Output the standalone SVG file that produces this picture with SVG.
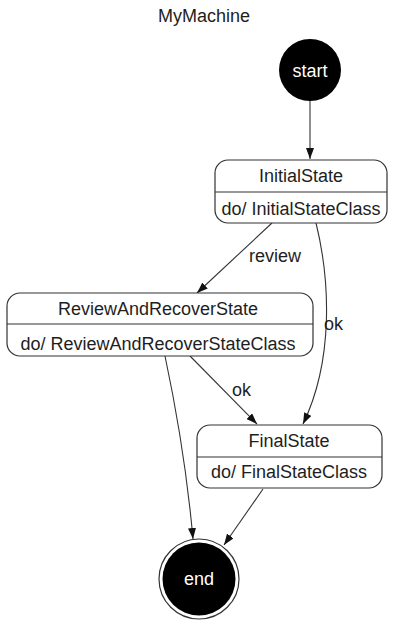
<svg xmlns="http://www.w3.org/2000/svg" width="397" height="622" viewBox="0 0 397 622">
<style>
text{font-family:"Liberation Sans",Arial,sans-serif;font-size:18px;fill:#1e1e1e}
.c{text-anchor:middle}
.w{fill:#ffffff}
.box{fill:#ffffff;stroke:#333333;stroke-width:1.2}
.div{stroke:#333333;stroke-width:1.2}
.e{fill:none;stroke:#333333;stroke-width:1.1}
</style>
<defs>
<marker id="ah" markerUnits="userSpaceOnUse" markerWidth="12" markerHeight="8" refX="11" refY="4" orient="auto">
<path d="M0,0 L11,4 L0,8 z" fill="#111111"/>
</marker>
</defs>
<rect width="397" height="622" fill="#ffffff"/>
<text class="c" x="204" y="22">MyMachine</text>
<g id="edges">
<path class="e" d="M310,101 L310,159" marker-end="url(#ah)"/>
<path class="e" d="M272,223 L197,293" marker-end="url(#ah)"/>
<path class="e" d="M316,223 C330,280 334,360 303,424" marker-end="url(#ah)"/>
<path class="e" d="M190,356 L257,424" marker-end="url(#ah)"/>
<path class="e" d="M165,356 Q185,450 193,539" marker-end="url(#ah)"/>
<path class="e" d="M263,489 L224,545" marker-end="url(#ah)"/>
<text class="c" x="275" y="262">review</text>
<text x="324" y="330">ok</text>
<text x="232" y="396">ok</text>
</g>
<g id="start">
<circle cx="310" cy="70" r="31" fill="#000000"/>
<text class="c w" x="310" y="77">start</text>
</g>
<g id="InitialState">
<rect class="box" x="215" y="160" width="172" height="63" rx="13"/>
<line class="div" x1="215" y1="192" x2="387" y2="192"/>
<text class="c" x="301" y="182">InitialState</text>
<text class="c" x="301" y="215">do/ InitialStateClass</text>
</g>
<g id="ReviewAndRecoverState">
<rect class="box" x="7" y="293" width="306" height="63" rx="13"/>
<line class="div" x1="7" y1="324" x2="313" y2="324"/>
<text class="c" x="158" y="315">ReviewAndRecoverState</text>
<text class="c" x="158" y="350">do/ ReviewAndRecoverStateClass</text>
</g>
<g id="FinalState">
<rect class="box" x="197" y="425" width="185" height="63" rx="13"/>
<line class="div" x1="197" y1="457" x2="382" y2="457"/>
<text class="c" x="289" y="447">FinalState</text>
<text class="c" x="289" y="478">do/ FinalStateClass</text>
</g>
<g id="end">
<circle cx="199" cy="579" r="40" fill="#ffffff" stroke="#333333" stroke-width="1.2"/>
<circle cx="199" cy="579" r="36.5" fill="#000000"/>
<text class="c w" x="199" y="585">end</text>
</g>
</svg>
